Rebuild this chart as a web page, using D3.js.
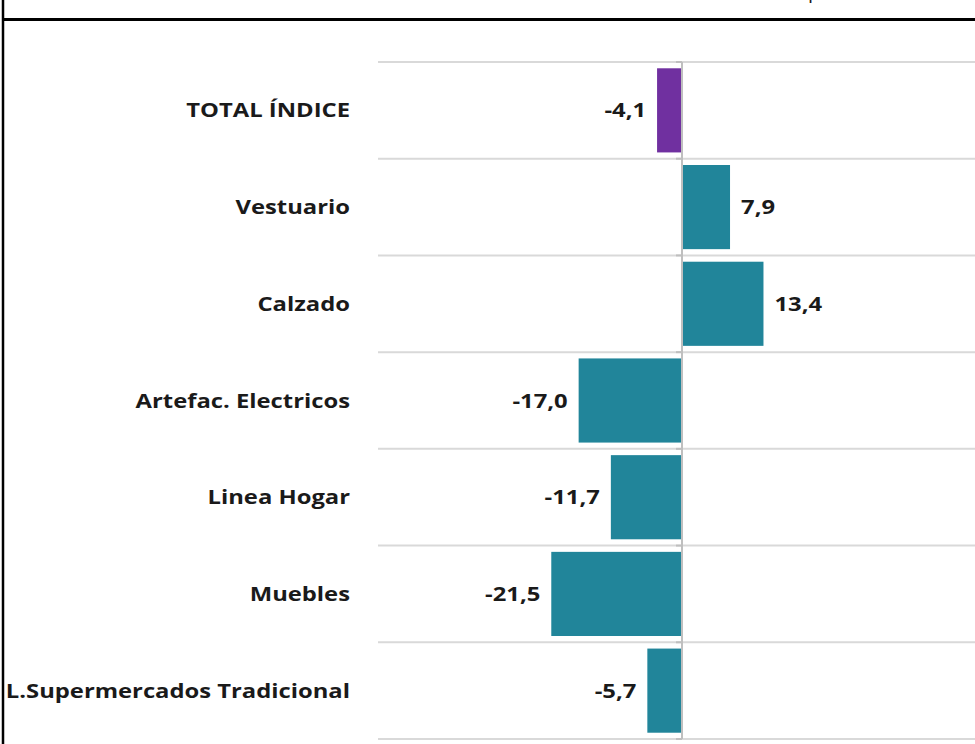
<!DOCTYPE html>
<html>
<head>
<meta charset="utf-8">
<script src="https://d3js.org/d3.v7.min.js"></script>
<style>
  body { margin: 0; background: #fff; }
  text { font-family: "Open Sans", sans-serif; font-weight: bold; fill: #1a1a1a; }
</style>
</head>
<body>
<svg width="975" height="744"></svg>
<script>
// data
var categories = ["TOTAL ÍNDICE", "Vestuario", "Calzado", "Artefac. Electricos",
                  "Linea Hogar", "Muebles", "L.Supermercados Tradicional"];
var values = [-4.1, 7.9, 13.4, -17.0, -11.7, -21.5, -5.7];
var barColors = ["#7030a0", "#21859a", "#21859a", "#21859a", "#21859a", "#21859a", "#21859a"];

var svg = d3.select("svg");
var stretch = 1.19; // labels in the original are set wider than Open Sans

// frame
svg.append("line").attr("x1", 3).attr("x2", 3).attr("y1", 0).attr("y2", 744)
  .style("stroke", "#000").style("stroke-width", 2.5);
svg.append("line").attr("x1", 3).attr("x2", 975).attr("y1", 19.5).attr("y2", 19.5)
  .style("stroke", "#000").style("stroke-width", 3);
// title above is cut off, only a descender shows
svg.append("text").attr("x", 808).attr("y", -2).style("font-weight", "normal")
  .style("font-size", "20px").text("p");

var x = d3.scaleLinear().domain([-50, 50]).range([378, 986]);
var y = d3.scaleBand().domain(categories).range([62, 739]).paddingInner(0.13).paddingOuter(0.065);
var step = y.step();

// gridlines between categories
var bounds = d3.range(categories.length + 1).map(function(i) { return 62 + i * step; });
svg.append("g").selectAll("line").data(bounds).enter().append("line")
  .attr("x1", x(-50)).attr("x2", 975)
  .attr("y1", function(d) { return d; }).attr("y2", function(d) { return d; })
  .style("stroke", "#d9d9d9").style("stroke-width", 2);

// bars
svg.append("g").selectAll("rect").data(values).enter().append("rect")
  .attr("x", function(d) { return x(Math.min(0, d)); })
  .attr("width", function(d) { return Math.abs(x(d) - x(0)); })
  .attr("y", function(d, i) { return y(categories[i]); })
  .attr("height", y.bandwidth())
  .attr("fill", function(d, i) { return barColors[i]; });

// zero axis
svg.append("line").attr("x1", x(0)).attr("x2", x(0)).attr("y1", 62).attr("y2", 739)
  .style("stroke", "#bfbfbf").style("stroke-width", 2);
svg.append("g").selectAll("line").data(bounds).enter().append("line")
  .attr("x1", x(0) - 6).attr("x2", x(0))
  .attr("y1", function(d) { return d; }).attr("y2", function(d) { return d; })
  .style("stroke", "#bfbfbf").style("stroke-width", 2);

// category labels
svg.append("g").selectAll("text").data(categories).enter().append("text")
  .attr("transform", function(d) {
    return "translate(350," + (y(d) + y.bandwidth() / 2) + ") scale(" + stretch + ",1)";
  })
  .attr("dy", "0.35em")
  .style("text-anchor", "end")
  .style("font-size", "20px")
  .text(function(d) { return d; });

// value labels
svg.append("g").selectAll("text").data(values).enter().append("text")
  .attr("transform", function(d, i) {
    var tx = d < 0 ? x(d) - 11 : x(d) + 11;
    return "translate(" + tx + "," + (y(categories[i]) + y.bandwidth() / 2) + ") scale(" + stretch + ",1)";
  })
  .attr("dy", "0.35em")
  .style("text-anchor", function(d) { return d < 0 ? "end" : "start"; })
  .style("font-size", "20px")
  .text(function(d) { return d.toFixed(1).replace(".", ","); });
</script>
</body>
</html>
